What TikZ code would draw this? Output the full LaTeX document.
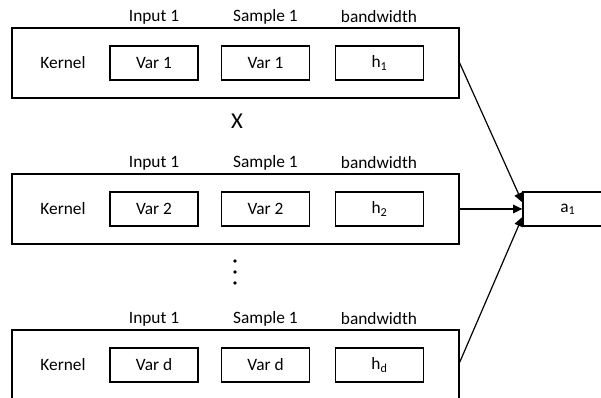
\documentclass[tikz,border=0pt]{standalone}
\usepackage{fontspec}
\setmainfont{Carlito}
\usetikzlibrary{arrows.meta, positioning, calc}

\begin{document}
\begin{tikzpicture}[
  x=0.75pt, y=-0.75pt,
  %%── Styles ───────────────────────────────────────────────────────────────
  kernbox/.style={
    draw=black, line width=1pt, minimum width=447*0.75pt,
    minimum height=70*0.75pt, inner sep=0pt
  },
  varbox/.style={
    draw=black, line width=1pt, minimum width=88*0.75pt,
    minimum height=34*0.75pt, inner sep=0pt, font=\fontsize{13}{15}\selectfont
  },
  head/.style={font=\fontsize{13}{15}\selectfont, inner sep=0pt},
  conn/.style={draw=black, line width=0.9pt, -{Triangle[length=7pt,width=6.5pt]}},
]

%%── Canvas (601 x 398 px) ───────────────────────────────────────────────
\useasboundingbox (0,0) rectangle (601,398);

%%════════════════════════════════════════════════════════════════
%% KERNEL ROWS — outer box, Kernel label, three value boxes, headings
%% Row centres: y=63, 209, 365 (last row runs off the bottom)
%%════════════════════════════════════════════════════════════════
\foreach \row/\y/\var/\bw in {1/63/Var 1/h\textsubscript{1},
                              2/209/Var 2/h\textsubscript{2},
                              d/365/Var d/h\textsubscript{d}} {
  \node[kernbox] (kern\row) at (235.5,\y) {};
  \node[head] (kname\row) at (63,\y) {Kernel};
  \node[varbox] (input\row)  at (154,\y)   {\var};
  \node[varbox] (sample\row) at (265.5,\y) {\var};
  \node[varbox] (band\row)   at (379.5,\y) {\bw};
  \node[head] (inhead\row) at (154,\y-46)   {Input 1};
  \node[head] (smhead\row) at (265.5,\y-46) {Sample 1};
  \node[head] (bwhead\row) at (379,\y-46)   {bandwidth};
}

%%── Product sign and ellipsis between rows ──────────────────────────────
\node[font=\fontsize{17}{19}\selectfont, inner sep=0pt] (times) at (237,121) {X};
\foreach \yy [count=\k] in {261,272,283}
  \fill (235,\yy) circle (1.9) coordinate (dot\k);

%%── Output node (cut by the right edge) ─────────────────────────────────
\node[varbox, minimum width=90*0.75pt] (out) at (568,209) {a\textsubscript{1}};

%%════════════════════════════════════════════════════════════════
%% CONNECTIONS — every kernel row feeds the output
%%════════════════════════════════════════════════════════════════
\draw[conn] (kern1.east) -- ([yshift=5pt]out.west);
\draw[conn] (kern2.east) -- (out.west);
\draw[conn] ([yshift=2pt]kernd.east) -- ([yshift=-6pt]out.west);

\end{tikzpicture}
\end{document}
